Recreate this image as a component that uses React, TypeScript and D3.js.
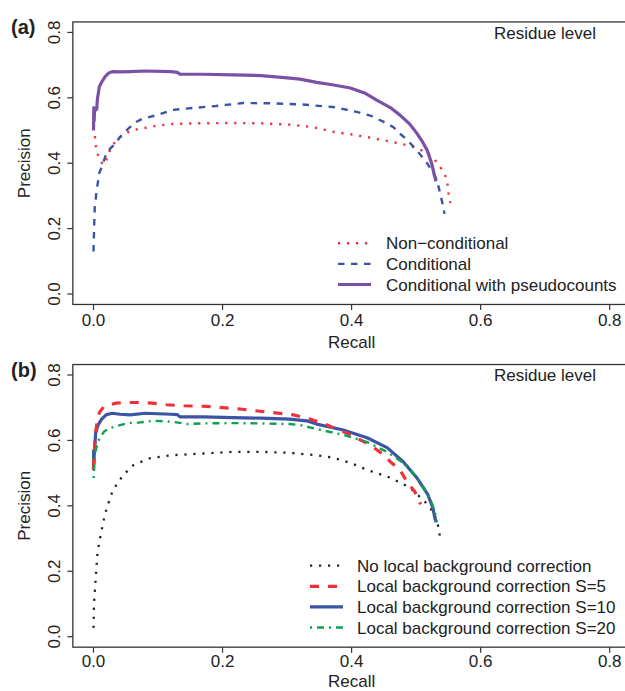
import React from "react";
import * as d3 from "d3";

// ---- data ----
const xTicks = [0, 0.2, 0.4, 0.6, 0.8];
const yTicks = [0, 0.2, 0.4, 0.6, 0.8];

// panel (a)
const nonCondRecall = [0, 0.002, 0.003, 0.005, 0.008, 0.011, 0.016, 0.02, 0.022, 0.028, 0.032, 0.038, 0.046, 0.058, 0.077, 0.1, 0.123, 0.16, 0.216, 0.26, 0.31, 0.34, 0.372, 0.4, 0.424, 0.45, 0.475, 0.495, 0.514, 0.527, 0.537, 0.543, 0.548, 0.55, 0.553];
const nonCondPrec = [0.51, 0.488, 0.462, 0.434, 0.42, 0.405, 0.395, 0.41, 0.425, 0.45, 0.461, 0.474, 0.486, 0.5, 0.507, 0.515, 0.52, 0.522, 0.523, 0.522, 0.517, 0.51, 0.496, 0.488, 0.48, 0.47, 0.46, 0.45, 0.435, 0.415, 0.39, 0.37, 0.35, 0.31, 0.278];

const condRecall = [0, 0.001, 0.002, 0.005, 0.009, 0.013, 0.02, 0.026, 0.033, 0.041, 0.049, 0.065, 0.076, 0.1, 0.123, 0.16, 0.19, 0.232, 0.28, 0.32, 0.371, 0.408, 0.43, 0.449, 0.465, 0.475, 0.487, 0.496, 0.507, 0.517, 0.525, 0.532, 0.537, 0.541, 0.544];
const condPrec = [0.13, 0.206, 0.267, 0.318, 0.37, 0.39, 0.43, 0.445, 0.458, 0.48, 0.497, 0.525, 0.536, 0.548, 0.563, 0.57, 0.575, 0.584, 0.583, 0.58, 0.572, 0.557, 0.545, 0.527, 0.51, 0.49, 0.47, 0.45, 0.425, 0.4, 0.375, 0.35, 0.31, 0.275, 0.245];

const pseudoRecall = [0, 0.0005, 0.001, 0.0015, 0.005, 0.006, 0.009, 0.013, 0.018, 0.023, 0.029, 0.041, 0.057, 0.08, 0.12, 0.13, 0.134, 0.17, 0.216, 0.26, 0.3, 0.32, 0.346, 0.37, 0.398, 0.42, 0.439, 0.46, 0.475, 0.49, 0.501, 0.51, 0.517, 0.524, 0.529, 0.531];
const pseudoPrec = [0.5, 0.57, 0.53, 0.56, 0.565, 0.595, 0.634, 0.649, 0.665, 0.675, 0.68, 0.679, 0.68, 0.682, 0.68, 0.678, 0.672, 0.672, 0.67, 0.668, 0.661, 0.657, 0.647, 0.64, 0.63, 0.615, 0.593, 0.57, 0.547, 0.52, 0.492, 0.465, 0.44, 0.4, 0.358, 0.345];

// panel (b)
const noLocalRecall = [0, 0.0003, 0.0006, 0.0012, 0.0023, 0.0033, 0.0043, 0.0055, 0.0065, 0.0085, 0.01, 0.012, 0.014, 0.02, 0.03, 0.046, 0.062, 0.088, 0.123, 0.17, 0.216, 0.26, 0.304, 0.346, 0.372, 0.4, 0.424, 0.46, 0.491, 0.514, 0.527, 0.533, 0.536, 0.538];
const noLocalPrec = [0.027, 0.057, 0.088, 0.115, 0.146, 0.176, 0.207, 0.237, 0.262, 0.283, 0.3, 0.317, 0.342, 0.39, 0.448, 0.494, 0.525, 0.546, 0.555, 0.56, 0.565, 0.565, 0.562, 0.555, 0.547, 0.53, 0.51, 0.486, 0.455, 0.412, 0.38, 0.35, 0.317, 0.29];

const s5Recall = [0, 0.0005, 0.001, 0.0023, 0.0054, 0.0075, 0.01, 0.016, 0.025, 0.035, 0.047, 0.07, 0.09, 0.113, 0.14, 0.175, 0.227, 0.268, 0.31, 0.336, 0.359, 0.395, 0.429, 0.447, 0.46, 0.475, 0.486, 0.498, 0.507];
const s5Prec = [0.51, 0.555, 0.53, 0.612, 0.653, 0.678, 0.688, 0.703, 0.709, 0.714, 0.716, 0.716, 0.714, 0.709, 0.706, 0.704, 0.696, 0.687, 0.678, 0.665, 0.65, 0.62, 0.586, 0.56, 0.535, 0.51, 0.473, 0.443, 0.405];

const s10Recall = [0, 0.0003, 0.0005, 0.0034, 0.007, 0.0127, 0.0194, 0.0287, 0.041, 0.057, 0.08, 0.12, 0.13, 0.134, 0.17, 0.216, 0.26, 0.304, 0.33, 0.346, 0.387, 0.424, 0.455, 0.48, 0.501, 0.518, 0.526, 0.529, 0.531];
const s10Prec = [0.51, 0.57, 0.54, 0.623, 0.647, 0.665, 0.678, 0.683, 0.68, 0.678, 0.683, 0.68, 0.679, 0.672, 0.672, 0.67, 0.668, 0.665, 0.66, 0.65, 0.632, 0.608, 0.578, 0.535, 0.486, 0.435, 0.394, 0.363, 0.35];

const s20Recall = [0.0003, 0.0012, 0.0034, 0.007, 0.0112, 0.0163, 0.0256, 0.038, 0.054, 0.072, 0.093, 0.123, 0.145, 0.17, 0.216, 0.26, 0.304, 0.32, 0.346, 0.387, 0.424, 0.455, 0.485, 0.506, 0.521, 0.529, 0.532];
const s20Prec = [0.485, 0.54, 0.57, 0.597, 0.612, 0.627, 0.638, 0.645, 0.653, 0.655, 0.66, 0.657, 0.65, 0.652, 0.653, 0.652, 0.65, 0.647, 0.635, 0.617, 0.595, 0.565, 0.525, 0.473, 0.424, 0.382, 0.35];

const FONT = "'Liberation Sans', Arial, Helvetica, sans-serif";
const TEXT = "#222";

type Series = { name: string; recall: number[]; prec: number[]; color: string; width: number; dash?: string };

const seriesA: Series[] = [
  { name: "Non\u2212conditional", recall: nonCondRecall, prec: nonCondPrec, color: "#ee3038", width: 2.4, dash: "2.2 6.8" },
  { name: "Conditional", recall: condRecall, prec: condPrec, color: "#3a55a5", width: 2.4, dash: "6.5 6.5" },
  { name: "Conditional with pseudocounts", recall: pseudoRecall, prec: pseudoPrec, color: "#7b51a6", width: 3.2 },
];

const seriesB: Series[] = [
  { name: "No local background correction", recall: noLocalRecall, prec: noLocalPrec, color: "#222", width: 2.3, dash: "2.2 6.8" },
  { name: "Local background correction S=5", recall: s5Recall, prec: s5Prec, color: "#ee3038", width: 3.2, dash: "9 9" },
  { name: "Local background correction S=10", recall: s10Recall, prec: s10Prec, color: "#3a55a5", width: 3.2 },
  { name: "Local background correction S=20", recall: s20Recall, prec: s20Prec, color: "#0ea14e", width: 2.4, dash: "2 5 7 5" },
];
const drawOrderB = [0, 2, 1, 3];

const x = d3.scaleLinear().domain([0, 0.8]).range([93.5, 609.7]);
const fmt = d3.format(".1f");

function Panel({ y, label, series, order, legendX, legendTextX, legendY0, tickLabelOffset, xLabelOffset }: {
  y: d3.ScaleLinear<number, number>; label: string; series: Series[]; order: number[];
  legendX: number; legendTextX: number; legendY0: number; tickLabelOffset: number; xLabelOffset: number;
}) {
  const left = x(-0.032);
  const right = x(0.832);
  const top = y(0.832);
  const bottom = y(-0.032);
  const line = d3.line<[number, number]>().x((d) => x(d[0])).y((d) => y(d[1]));
  return (
    <g>
      <text x={11} y={top + 12} fontWeight="bold" fontSize={20} fill={TEXT}>{label}</text>
      <rect x={left} y={top} width={right - left} height={bottom - top} fill="none" stroke="#333" strokeWidth={1.3} />
      {yTicks.map((t) => (
        <g key={"y" + t}>
          <line x1={left} x2={left - 5.5} y1={y(t)} y2={y(t)} stroke="#333" strokeWidth={1.2} />
          <text transform={`translate(60,${y(t)}) rotate(-90)`} textAnchor="middle" fontSize={17} fill={TEXT}>{fmt(t)}</text>
        </g>
      ))}
      {xTicks.map((t) => (
        <g key={"x" + t}>
          <line x1={x(t)} x2={x(t)} y1={bottom} y2={bottom + 5.5} stroke="#333" strokeWidth={1.2} />
          <text x={x(t)} y={bottom + tickLabelOffset} textAnchor="middle" fontSize={17} fill={TEXT}>{fmt(t)}</text>
        </g>
      ))}
      <text transform={`translate(30,${y(0.4)}) rotate(-90)`} textAnchor="middle" fontSize={17} fill={TEXT}>Precision</text>
      <text x={x(0.4)} y={bottom + xLabelOffset} textAnchor="middle" fontSize={17} fill={TEXT}>Recall</text>
      <text x={596} y={top + 16.6} textAnchor="end" fontSize={17} fill={TEXT}>Residue level</text>
      {order.map((i) => {
        const s = series[i];
        const pts = s.recall.map((r, k) => [r, s.prec[k]] as [number, number]);
        return (
          <path key={s.name} d={line(pts) ?? ""} fill="none" stroke={s.color} strokeWidth={s.width}
            strokeDasharray={s.dash} strokeLinejoin="round" />
        );
      })}
      {series.map((s, i) => {
        const base = legendY0 + i * 20.6;
        return (
          <g key={"leg" + s.name}>
            <line x1={legendX} x2={legendX + 33} y1={base - 6} y2={base - 6} stroke={s.color}
              strokeWidth={s.width} strokeDasharray={s.dash} />
            <text x={legendTextX} y={base} fontSize={17} fill={TEXT}>{s.name}</text>
          </g>
        );
      })}
    </g>
  );
}

export default function App() {
  const yA = d3.scaleLinear().domain([0, 0.8]).range([294, 32.4]);
  const yB = d3.scaleLinear().domain([0, 0.8]).range([636.7, 375]);
  return (
    <svg width={625} height={691} style={{ position: "absolute", left: 0, top: 0, background: "#fff", fontFamily: FONT }}>
      <rect width={625} height={691} fill="#fff" />
      <Panel y={yA} label="(a)" series={seriesA} order={[0, 1, 2]} legendX={338} legendTextX={386} legendY0={249.3}
        tickLabelOffset={21.5} xLabelOffset={44} />
      <Panel y={yB} label="(b)" series={seriesB} order={drawOrderB} legendX={310} legendTextX={357} legendY0={571.7}
        tickLabelOffset={20.2} xLabelOffset={39.8} />
    </svg>
  );
}
